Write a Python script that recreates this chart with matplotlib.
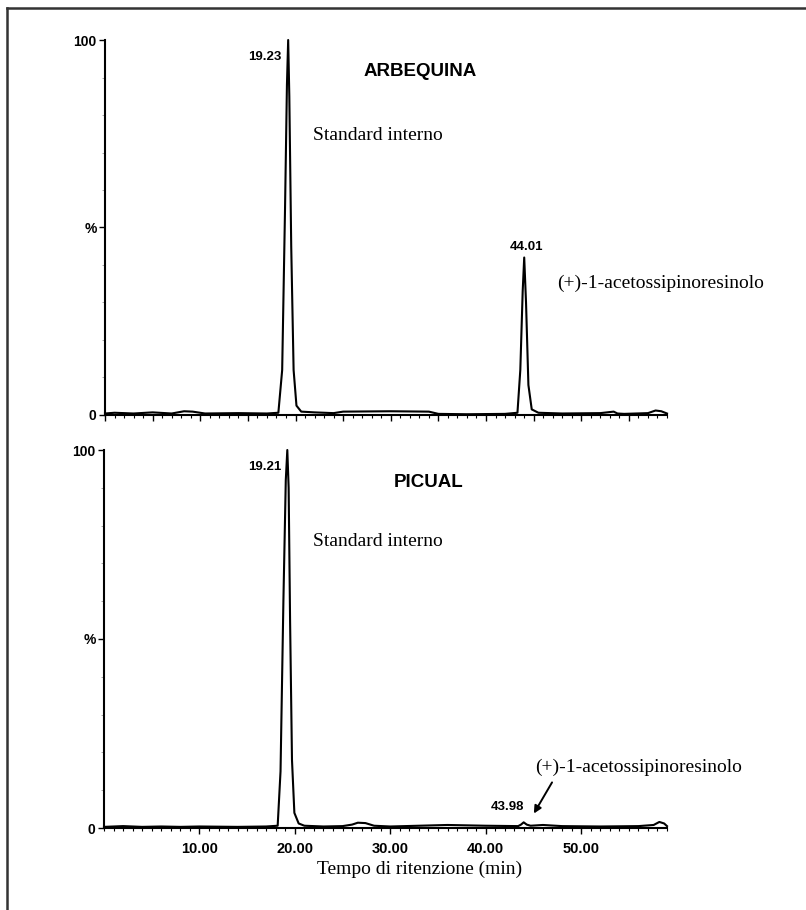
import matplotlib.pyplot as plt
from matplotlib.lines import Line2D
from matplotlib.ticker import MultipleLocator, FixedLocator

arb_t = [0, 1, 3, 5, 7, 8.3, 9.2, 10.5, 14, 17, 18.2, 18.6, 18.9, 19.1, 19.23, 19.35,
         19.55, 19.8, 20.1, 20.6, 22, 24, 25, 30, 34, 35, 38, 42, 43.3, 43.6, 43.85,
         44.01, 44.2, 44.45, 44.8, 45.5, 48, 52, 53.4, 53.8, 54.5, 57, 57.8, 58.4, 59]
arb_y = [0.4, 0.6, 0.4, 0.7, 0.4, 1.0, 0.9, 0.4, 0.5, 0.4, 0.6, 12, 55, 88, 100, 85,
         45, 12, 2.5, 0.9, 0.7, 0.5, 0.9, 1.0, 0.9, 0.3, 0.2, 0.3, 0.6, 12, 33,
         42, 30, 8, 1.5, 0.6, 0.4, 0.5, 0.9, 0.4, 0.3, 0.5, 1.2, 1.0, 0.4]

pic_t = [0, 2, 4, 6, 8, 10, 14, 17, 18.2, 18.5, 18.8, 19.05, 19.21, 19.35, 19.5,
         19.7, 19.95, 20.4, 21, 23, 25, 26, 26.6, 27.4, 28.3, 30, 33, 36, 40, 43.4,
         43.7, 43.98, 44.3, 44.7, 46, 48, 52, 56, 57.6, 58.2, 58.7, 59]
pic_y = [0.3, 0.5, 0.3, 0.4, 0.3, 0.4, 0.3, 0.4, 0.6, 15, 60, 92, 100, 90, 55,
         18, 4, 1.2, 0.6, 0.4, 0.5, 0.9, 1.4, 1.3, 0.6, 0.4, 0.6, 0.8, 0.6, 0.5,
         0.9, 1.5, 0.9, 0.6, 0.8, 0.5, 0.4, 0.5, 0.8, 1.6, 1.2, 0.5]

xticks = [10, 20, 30, 40, 50]
xtick_labels = ['10.00', '20.00', '30.00', '40.00', '50.00']
yticks = [0, 50, 100]
ytick_labels = ['0', '%', '100']

sans = 'Liberation Sans'
serif = 'Liberation Serif'

fig = plt.figure(figsize=(8.06, 9.10), dpi=100)
W, H = 806, 910

def make_ax(left_px, bottom_px, top_px):
    ax = fig.add_axes([left_px / W, 1 - bottom_px / H, (667 - left_px) / W, (bottom_px - top_px) / H])
    ax.set_xlim(0, 59)
    ax.set_ylim(0, 100)
    for s in ['top', 'right']:
        ax.spines[s].set_visible(False)
    ax.spines['left'].set_linewidth(1.5)
    ax.spines['bottom'].set_linewidth(1.5)
    ax.xaxis.set_major_locator(MultipleLocator(5))
    ax.xaxis.set_minor_locator(MultipleLocator(1))
    ax.yaxis.set_major_locator(FixedLocator(yticks))
    ax.yaxis.set_minor_locator(MultipleLocator(10))
    ax.set_yticklabels(ytick_labels, fontfamily=sans, fontweight='bold', fontsize=10)
    ax.tick_params(axis='x', which='major', length=4, width=1.0, direction='out', pad=6)
    ax.tick_params(axis='x', which='minor', length=2.5, width=0.8, direction='out')
    ax.tick_params(axis='y', which='major', length=4, width=1.0, pad=2)
    ax.tick_params(axis='y', which='minor', length=2, width=0.6, color='#999999')
    return ax

## ARBEQUINA
ax1 = make_ax(105, 415, 40)
ax1.plot(arb_t, arb_y, color='black', lw=1.5, clip_on=False)
ax1.set_xticklabels([])
ax1.text(18.5, 95.5, '19.23', ha='right', va='center', fontfamily=sans, fontweight='bold', fontsize=9.5)
ax1.text(44.2, 44.8, '44.01', ha='center', va='center', fontfamily=sans, fontweight='bold', fontsize=9.5)
ax1.text(33.1, 91.5, 'ARBEQUINA', ha='center', va='center', fontfamily=sans, fontweight='bold', fontsize=13.5)
ax1.text(21.8, 74.5, 'Standard interno', ha='left', va='center', fontfamily=serif, fontsize=14)
ax1.text(47.5, 35.2, '(+)-1-acetossipinoresinolo', ha='left', va='center', fontfamily=serif, fontsize=14)

## PICUAL
ax2 = make_ax(104, 828, 450)
ax2.plot(pic_t, pic_y, color='black', lw=1.5, clip_on=False)
ax2.set_xticks(xticks)
ax2.set_xticklabels(xtick_labels, fontfamily=sans, fontweight='bold', fontsize=10.5)
ax2.xaxis.set_minor_locator(MultipleLocator(1))
ax2.text(18.6, 95.5, '19.21', ha='right', va='center', fontfamily=sans, fontweight='bold', fontsize=9.5)
ax2.text(42.3, 5.5, '43.98', ha='center', va='center', fontfamily=sans, fontweight='bold', fontsize=9.5)
ax2.text(34.0, 91.3, 'PICUAL', ha='center', va='center', fontfamily=sans, fontweight='bold', fontsize=13.5)
ax2.text(21.9, 75.7, 'Standard interno', ha='left', va='center', fontfamily=serif, fontsize=14)
ax2.text(45.2, 16.1, '(+)-1-acetossipinoresinolo', ha='left', va='center', fontfamily=serif, fontsize=14)
ax2.annotate('', xy=(44.9, 3.2), xytext=(47.1, 12.7),
             arrowprops=dict(arrowstyle='-|>', color='black', lw=1.4, mutation_scale=11))

fig.text(420 / W, 1 - 869 / H, 'Tempo di ritenzione (min)', ha='center', va='center',
         fontfamily=serif, fontsize=14)

## cornice
fig.add_artist(Line2D([7 / W, 7 / W], [0, 1 - 8 / H], color='#333333', lw=1.8))
fig.add_artist(Line2D([7 / W, 1], [1 - 8 / H, 1 - 8 / H], color='#333333', lw=1.8))

fig.savefig('out.png', dpi=100)
